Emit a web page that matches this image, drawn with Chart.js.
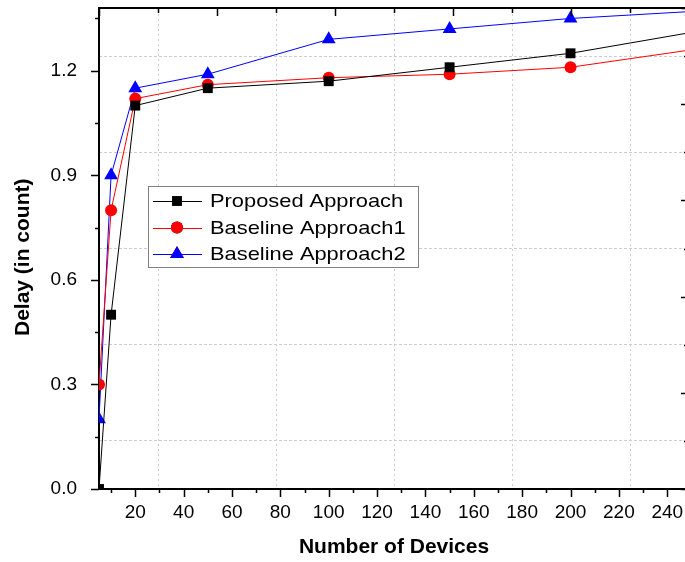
<!DOCTYPE html>
<html>
<head>
<meta charset="utf-8">
<title>Delay vs Number of Devices</title>
<script src="https://cdn.jsdelivr.net/npm/chart.js@4"></script>
<style>
    html, body { margin: 0; padding: 0; background: #ffffff; overflow: hidden; }
    #wrap { width: 685px; height: 562px; overflow: hidden; }
</style>
</head>
<body>
<div id="wrap"><canvas id="delayChart" width="700" height="562"></canvas></div>
<script>
// ---- data ----
const xValues = [5, 10, 20, 50, 100, 150, 200, 250];
const proposed = [0.0, 0.5, 1.10, 1.15, 1.17, 1.21, 1.25, 1.31];
const baseline1 = [0.3, 0.8, 1.12, 1.16, 1.18, 1.19, 1.21, 1.26];
const baseline2 = [0.2, 0.9, 1.15, 1.19, 1.29, 1.32, 1.35, 1.37];
const seriesLabels = ["Proposed Approach", "Baseline Approach1", "Baseline Approach2"];

const xMajorTicks = [20, 40, 60, 80, 100, 120, 140, 160, 180, 200, 220, 240];
const xMinorTicks = [10, 30, 50, 70, 90, 110, 130, 150, 170, 190, 210, 230];
const yMajorTicks = [0.0, 0.3, 0.6, 0.9, 1.2];
const yMinorTicks = [0.15, 0.45, 0.75, 1.05, 1.35];

const FONT = "'Liberation Sans', Arial, sans-serif";

function toPoints(ys) {
    return xValues.map((x, i) => ({ x: x, y: ys[i] }));
}

function tickList(majors, minors) {
    return [...majors, ...minors].sort((a, b) => a - b).map(v => ({ value: v }));
}

// fixed box sizes so the plot area lands where the original one is
function fixBox(w, h) {
    return scale => {
        if (w !== null) scale.width = w;
        if (h !== null) scale.height = h;
        scale.paddingTop = 0;
        scale.paddingBottom = 0;
        scale.paddingLeft = 0;
        scale.paddingRight = 0;
    };
}

// Origin-style tick marks: outward on bottom/left, inward on top/right
const tickMarks = {
    id: "tickMarks",
    afterDraw(chart) {
        const ctx = chart.ctx;
        const area = chart.chartArea;
        const s = chart.scales;
        ctx.save();
        ctx.strokeStyle = "#000";
        ctx.lineWidth = 1.5;
        ctx.beginPath();
        s.x.ticks.forEach(t => {
            const px = Math.round(s.x.getPixelForValue(t.value)) + 0.5;
            const len = xMajorTicks.includes(t.value) ? 8 : 4;
            ctx.moveTo(px, area.bottom);
            ctx.lineTo(px, area.bottom + len);
        });
        s.y.ticks.forEach(t => {
            const py = Math.round(s.y.getPixelForValue(t.value)) + 0.5;
            const len = yMajorTicks.includes(t.value) ? 8 : 4;
            ctx.moveTo(area.left - len, py);
            ctx.lineTo(area.left, py);
        });
        s.x2.ticks.forEach(t => {
            const px = Math.round(s.x2.getPixelForValue(t.value)) + 0.5;
            const len = t.value % 1 === 0 ? 8 : 5;
            ctx.moveTo(px, area.top);
            ctx.lineTo(px, area.top + len);
        });
        s.y2.ticks.forEach(t => {
            const py = Math.round(s.y2.getPixelForValue(t.value)) + 0.5;
            const len = t.value % 1 === 0 ? 8 : 5;
            ctx.moveTo(area.right - len, py);
            ctx.lineTo(area.right, py);
        });
        ctx.stroke();
        ctx.restore();
    }
};

// boxed legend sitting inside the plot
const boxLegend = {
    id: "boxLegend",
    afterDraw(chart) {
        const ctx = chart.ctx;
        const box = { left: 148, top: 186, width: 270, height: 81 };
        ctx.save();
        ctx.fillStyle = "#fff";
        ctx.fillRect(box.left, box.top, box.width, box.height);
        ctx.strokeStyle = "#808080";
        ctx.lineWidth = 1;
        ctx.strokeRect(box.left + 0.5, box.top + 0.5, box.width, box.height);
        chart.data.datasets.forEach((ds, i) => {
            const y = box.top + 15 + i * 26.5;
            ctx.strokeStyle = ds.borderColor;
            ctx.lineWidth = 1;
            ctx.beginPath();
            ctx.moveTo(box.left + 5, Math.round(y) + 0.5);
            ctx.lineTo(box.left + 54, Math.round(y) + 0.5);
            ctx.stroke();
            Chart.helpers.drawPoint(ctx, {
                pointStyle: ds.pointStyle,
                radius: ds.pointRadius,
                borderWidth: 0,
                rotation: 0
            }, box.left + 29, y);
            ctx.fillStyle = ds.pointBackgroundColor;
            ctx.fill();
            // the original lettering is a little wider than Arial
            ctx.save();
            ctx.translate(box.left + 62, y + 1);
            ctx.scale(1.15, 1);
            ctx.fillStyle = "#000";
            ctx.font = "19px " + FONT;
            ctx.textBaseline = "middle";
            ctx.fillText(ds.label, 0, 0);
            ctx.restore();
        });
        ctx.restore();
    }
};

const gridColor = c => (c.tick && c.tick.value % 1 !== 0) ? "#cdcdcd" : "rgba(0,0,0,0)";

new Chart(document.getElementById("delayChart"), {
    type: "line",
    data: {
        datasets: [
            {
                label: seriesLabels[0],
                data: toPoints(proposed),
                borderColor: "#000000",
                backgroundColor: "#000000",
                pointBackgroundColor: "#000000",
                pointStyle: "rect",
                pointRadius: 7,
                pointBorderWidth: 0,
                borderWidth: 1,
                tension: 0
            },
            {
                label: seriesLabels[1],
                data: toPoints(baseline1),
                borderColor: "#ff0000",
                backgroundColor: "#ff0000",
                pointBackgroundColor: "#ff0000",
                pointStyle: "circle",
                pointRadius: 6,
                pointBorderWidth: 0,
                borderWidth: 1,
                tension: 0
            },
            {
                label: seriesLabels[2],
                data: toPoints(baseline2),
                borderColor: "#0000ff",
                backgroundColor: "#0000ff",
                pointBackgroundColor: "#0000ff",
                pointStyle: "triangle",
                pointRadius: 8,
                pointBorderWidth: 0,
                borderWidth: 1,
                tension: 0
            }
        ]
    },
    options: {
        responsive: false,
        animation: false,
        layout: { padding: 0 },
        plugins: {
            legend: { display: false },
            tooltip: { enabled: false }
        },
        scales: {
            x: {
                type: "linear",
                position: "bottom",
                min: 5,
                max: 249,
                afterBuildTicks: scale => { scale.ticks = tickList(xMajorTicks, xMinorTicks); },
                afterFit: fixBox(null, 73),
                grid: { display: false, drawTicks: false },
                border: { color: "#000", width: 2 },
                ticks: {
                    autoSkip: false,
                    maxRotation: 0,
                    padding: 12,
                    color: "#000",
                    font: { family: FONT, size: 19 },
                    callback: v => xMajorTicks.includes(v) ? String(v) : ""
                },
                title: {
                    display: true,
                    text: "Number of Devices",
                    color: "#000",
                    font: { family: FONT, size: 21, weight: "bold" },
                    padding: { top: 0, bottom: 2 }
                }
            },
            y: {
                type: "linear",
                position: "left",
                min: 0,
                max: 1.38,
                afterBuildTicks: scale => { scale.ticks = tickList(yMajorTicks, yMinorTicks); },
                afterFit: fixBox(99, null),
                grid: { display: false, drawTicks: false },
                border: { color: "#000", width: 2 },
                ticks: {
                    autoSkip: false,
                    padding: 22,
                    color: "#000",
                    font: { family: FONT, size: 19 },
                    callback: v => yMajorTicks.includes(v) ? v.toFixed(1) : ""
                },
                title: {
                    display: true,
                    // trailing spaces nudge the centred title down a little, as in the original
                    text: "Delay (in count)   ",
                    color: "#000",
                    font: { family: FONT, size: 21, weight: "bold" },
                    padding: { top: 11, bottom: 0 }
                }
            },
            x2: {
                type: "linear",
                position: "top",
                min: 0,
                max: 5,
                afterFit: fixBox(null, 8),
                grid: { drawTicks: false, lineWidth: 1, color: gridColor },
                border: { color: "#000", width: 2, dash: [2, 3] },
                ticks: { display: false, stepSize: 0.5 }
            },
            y2: {
                type: "linear",
                position: "right",
                min: 0,
                max: 5,
                afterFit: fixBox(11, null),
                grid: { drawTicks: false, lineWidth: 1, color: gridColor },
                border: { color: "#000", width: 2, dash: [3, 2] },
                ticks: { display: false, stepSize: 0.5 }
            }
        }
    },
    plugins: [tickMarks, boxLegend]
});
</script>
</body>
</html>
